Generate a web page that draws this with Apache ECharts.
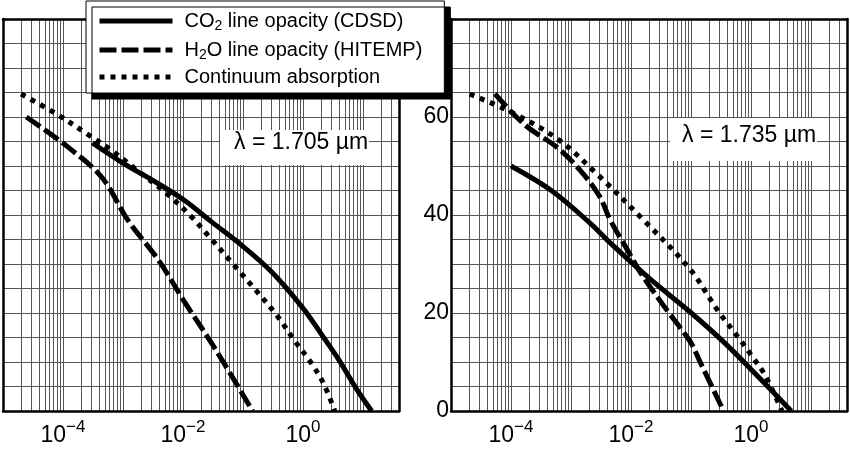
<!DOCTYPE html>
<html>
<head>
<meta charset="utf-8">
<script src="https://cdn.jsdelivr.net/npm/echarts@6/dist/echarts.min.js"></script>
<style>
html,body{margin:0;padding:0;background:#fff;}
#chart{width:850px;height:453px;}
</style>
</head>
<body>
<div id="chart"></div>
<script>
// ---------------- data ----------------
const seriesNames = ['CO2 line opacity (CDSD)', 'H2O line opacity (HITEMP)', 'Continuum absorption'];
const panelLabels = ['λ = 1.705 µm', 'λ = 1.735 µm'];
const xLabelExponents = [-4, -2, 0];
const yTickLabels = [0, 20, 40, 60];
const xRange = [1e-5, 40];
const yRange = [0, 80];

// left panel (λ = 1.705 µm)
const leftCO2 = [[3.1e-4,54.7],[1e-3,50.6],[3e-3,47.2],[1e-2,43.2],[3e-2,38.6],[0.1,33.6],[0.3,28.4],[1,21.0],[2,15.8],[4,10.4],[8,4.3],[14,0]];
const leftH2O = [[2.45e-5,60.0],[1.26e-4,53.7],[4.5e-4,47.6],[1.2e-3,39.0],[3.9e-3,30.8],[1.07e-2,22.2],[3.4e-2,12.8],[0.145,0]];
const leftCont = [[2.0e-5,64.7],[7.6e-5,60.7],[2.7e-4,56.3],[6.6e-4,53.1],[2.1e-3,48.3],[5.7e-3,44.1],[1.4e-2,39.6],[2.6e-2,35.9],[7.3e-2,29.6],[0.16,24.8],[0.38,19.3],[0.72,14.4],[1.36,9.9],[2.25,5.4],[3.4,0]];

// right panel (λ = 1.735 µm)
const rightCO2 = [[1.0e-4,50.0],[4.7e-4,45.0],[2.1e-3,38.3],[4.6e-3,34.2],[2.1e-2,26.9],[9.7e-2,20.2],[0.35,14.1],[1.23,7.4],[4.7,0]];
const rightH2O = [[5.4e-5,64.7],[1.7e-4,58.4],[6.0e-4,53.7],[1.45e-3,49.0],[3.0e-3,43.8],[4.5e-3,39.0],[8.7e-3,32.9],[1.45e-2,28.2],[3.5e-2,21.5],[9.8e-2,14.1],[0.141,10.1],[0.35,0]];
const rightCont = [[2.05e-5,64.7],[1.0e-4,61.0],[6.0e-4,55.5],[2.75e-3,48.3],[1.44e-2,39.6],[9.7e-2,28.9],[0.28,20.5],[0.61,15.1],[1.0,11.5],[1.7,7.4],[3.3,0]];

// ---------------- styles ----------------
const FONT = '"Liberation Sans", Arial, Helvetica, sans-serif';
const lineStyles = [
  {color:'#000', width:5, type:'solid', cap:'butt'},
  {color:'#000', width:5, type:[17,5], cap:'butt'},
  {color:'#000', width:5, type:[5,6], cap:'butt'}
];
const gridColor = '#555';
const frameStyle = {color:'#000', width:2.5};

function xLabelFormatter(v) {
  const e = Math.round(Math.log10(v));
  const p = Math.pow(10, e);
  if (Math.abs(v - p) > 1e-6 * p) return '';
  if (xLabelExponents.indexOf(e) < 0) return '';
  return '{b|10}{s|' + (e < 0 ? '\u2212' + (-e) : String(e)) + '}';
}
function yLabelFormatter(v) {
  return yTickLabels.indexOf(v) >= 0 ? String(v) : '';
}

function makeAxes(g, showY) {
  const base = {type:'log', logBase:10, gridIndex:g, min:xRange[0], max:xRange[1]};
  const xa = [
    Object.assign({}, base, {
      position:'bottom', z:5,
      axisLine:{show:true, onZero:false, lineStyle:frameStyle},
      axisTick:{show:false},
      axisLabel:{show:true, margin:8, fontSize:23, fontFamily:FONT, color:'#000',
        formatter:xLabelFormatter,
        rich:{
          b:{fontSize:23, lineHeight:34, fontFamily:FONT, color:'#000'},
          s:{fontSize:17, lineHeight:17, padding:[0,0,17,0], fontFamily:FONT, color:'#000'}
        }},
      splitLine:{show:false}
    }),
    Object.assign({}, base, {
      position:'top', z:5,
      axisLine:{show:true, onZero:false, lineStyle:frameStyle},
      axisTick:{show:false}, axisLabel:{show:false}, splitLine:{show:false}
    }),
    Object.assign({}, base, {
      position:'bottom', z:1,
      axisLine:{show:false}, axisTick:{show:false}, axisLabel:{show:false},
      splitLine:{show:true, lineStyle:{color:gridColor, width:1}},
      minorTick:{show:false, splitNumber:9},
      minorSplitLine:{show:true, lineStyle:{color:gridColor, width:1}}
    })
  ];
  const ybase = {type:'value', gridIndex:g, min:yRange[0], max:yRange[1], interval:20};
  const ya = [
    Object.assign({}, ybase, {
      position:'left', z:5,
      axisLine:{show:true, onZero:false, lineStyle:frameStyle},
      axisTick:{show:false},
      axisLabel:{show:showY, margin:2, fontSize:23, fontFamily:FONT, color:'#000', formatter:yLabelFormatter},
      splitLine:{show:false}
    }),
    Object.assign({}, ybase, {
      position:'right', z:5,
      axisLine:{show:true, onZero:false, lineStyle:frameStyle},
      axisTick:{show:false}, axisLabel:{show:false}, splitLine:{show:false}
    }),
    Object.assign({}, ybase, {
      position:'left', z:1,
      axisLine:{show:false}, axisTick:{show:false}, axisLabel:{show:false},
      splitLine:{show:true, lineStyle:{color:gridColor, width:1}},
      minorTick:{show:false, splitNumber:4},
      minorSplitLine:{show:true, lineStyle:{color:gridColor, width:1}}
    })
  ];
  return {xa, ya};
}

const p0 = makeAxes(0, false);
const p1 = makeAxes(1, true);

function mkSeries(idx, data, axisIdx) {
  return {
    name: seriesNames[idx], type:'line', data: data,
    xAxisIndex: axisIdx, yAxisIndex: axisIdx,
    symbol:'none', showSymbol:false, smooth:0.35, z:2, silent:true,
    color:'#000',
    itemStyle:{color:'#000'},
    lineStyle: lineStyles[idx],
    emphasis:{disabled:true}
  };
}

const legendRich = {
  f:{fontSize:20, lineHeight:24, fontFamily:FONT, color:'#000', padding:[0,0,0,7]},
  t:{fontSize:20, lineHeight:24, fontFamily:FONT, color:'#000'},
  s:{fontSize:14, lineHeight:14, padding:[10,0,0,0], fontFamily:FONT, color:'#000'}
};
function legendFormatter(name) {
  if (name === seriesNames[0]) return '{f|CO}{s|2}{t| line opacity (CDSD)}';
  if (name === seriesNames[1]) return '{f|H}{s|2}{t|O line opacity (HITEMP)}';
  return '{f|' + name + '}';
}

const option = {
  animation:false,
  backgroundColor:'#fff',
  grid:[
    {left:0, right:451, top:19, bottom:36},
    {left:451, right:-1, top:19, bottom:36}
  ],
  xAxis: p0.xa.concat(p1.xa),
  yAxis: p0.ya.concat(p1.ya),
  legend:{
    data: seriesNames,
    orient:'vertical', left:86, top:1,
    itemWidth:73, itemHeight:14, itemGap:5,
    padding:[8,22,6,11],
    backgroundColor:'#fff', borderColor:'#000', borderWidth:1,
    shadowColor:'#000', shadowBlur:0, shadowOffsetX:6, shadowOffsetY:6,
    selectedMode:false, z:10,
    itemStyle:{color:'rgba(0,0,0,0)', borderColor:'rgba(0,0,0,0)', borderWidth:0, opacity:0},
    lineStyle:{width:5, color:'#000', cap:'butt'},
    textStyle:{fontSize:20, fontFamily:FONT, color:'#000', rich:legendRich},
    formatter: legendFormatter
  },
  graphic:[
    {type:'text', left:220, top:130, z:20, silent:true,
      style:{text:panelLabels[0], fontSize:23, fontFamily:FONT, fill:'#000', backgroundColor:'#fff', padding:[1,1,11,14]}},
    {type:'text', left:670, top:118, z:20, silent:true,
      style:{text:panelLabels[1], fontSize:23, fontFamily:FONT, fill:'#000', backgroundColor:'#fff', padding:[6,1,14,12]}}
  ],
  series:[
    mkSeries(0, leftCO2, 0),
    mkSeries(1, leftH2O, 0),
    mkSeries(2, leftCont, 0),
    mkSeries(0, rightCO2, 3),
    mkSeries(1, rightH2O, 3),
    mkSeries(2, rightCont, 3)
  ]
};

const chart = echarts.init(document.getElementById('chart'), null, {renderer:'canvas'});
chart.setOption(option);
</script>
</body>
</html>
